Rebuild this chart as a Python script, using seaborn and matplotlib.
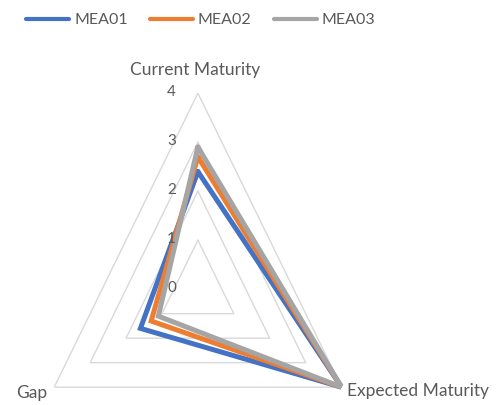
import numpy as np
import pandas as pd
import matplotlib
matplotlib.use("Agg")
import matplotlib.pyplot as plt
import seaborn as sns
from matplotlib.lines import Line2D

# ---- data ----
categories = ["Current Maturity", "Expected Maturity", "Gap"]
series = ["MEA01", "MEA02", "MEA03"]
mea01 = [2.4, 4.0, 1.6]
mea02 = [2.7, 4.0, 1.3]
mea03 = [2.9, 4.0, 1.1]
r_ticks = [0, 1, 2, 3, 4]
colors = ["#4472C4", "#ED7D31", "#A5A5A5"]

sns.set_theme(style="white")
plt.rcParams["font.family"] = ["Lato", "DejaVu Sans"]
text_color = "#595959"

n = len(categories)
theta = [2 * np.pi * i / n for i in range(n)]
theta_closed = theta + [2 * np.pi]

rows = []
for name, vals in zip(series, [mea01, mea02, mea03]):
    for t, v in zip(theta_closed, vals + vals[:1]):
        rows.append({"series": name, "theta": t, "value": v})
df = pd.DataFrame(rows)

fig = plt.figure(figsize=(5.02, 4.05), dpi=100)
ax = fig.add_axes([0.0637, -0.198, 0.661, 0.968], projection="polar")
ax.set_aspect("auto")
ax.set_theta_zero_location("N")
ax.set_theta_direction(-1)
ax.set_ylim(0, 4)
ax.grid(False)
ax.spines["polar"].set_visible(False)
ax.set_xticks([])
ax.set_yticks([])
ax.patch.set_alpha(0)

# triangular grid
for r in r_ticks[1:]:
    ax.plot(theta_closed, [r] * len(theta_closed), color="#D9D9D9", lw=1.0, zorder=0)

sns.lineplot(data=df, x="theta", y="value", hue="series", palette=colors,
             hue_order=series, sort=False, estimator=None, lw=3.6,
             legend=False, ax=ax, zorder=3)
for ln in ax.lines[-3:]:
    ln.set_solid_joinstyle("miter")

ax.set_ylim(0, 4)

# radial tick labels
for r in r_ticks:
    ax.annotate(str(r), xy=(0, r), xytext=(-19, 1), textcoords="offset points",
                ha="center", va="center", fontsize=11, color=text_color)

# category labels
ax.annotate(categories[0], xy=(theta[0], 4), xytext=(-2, 17), textcoords="offset points",
            ha="center", va="center", fontsize=12.5, color=text_color)
ax.annotate(categories[1], xy=(theta[1], 4), xytext=(4, -3), textcoords="offset points",
            ha="left", va="center", fontsize=12.5, color=text_color)
ax.annotate(categories[2], xy=(theta[2], 4), xytext=(-5, -4), textcoords="offset points",
            ha="right", va="center", fontsize=12.5, color=text_color)

handles = [Line2D([0], [0], color=c, lw=3) for c in colors]
leg = fig.legend(handles, series, loc="center left", bbox_to_anchor=(0.052, 0.95),
                 ncol=3, frameon=False, handlelength=2.7, handletextpad=0.3,
                 columnspacing=1.4, fontsize=11.5, borderpad=0, borderaxespad=0)
for t in leg.get_texts():
    t.set_color(text_color)

fig.savefig("out.png", dpi=100)
